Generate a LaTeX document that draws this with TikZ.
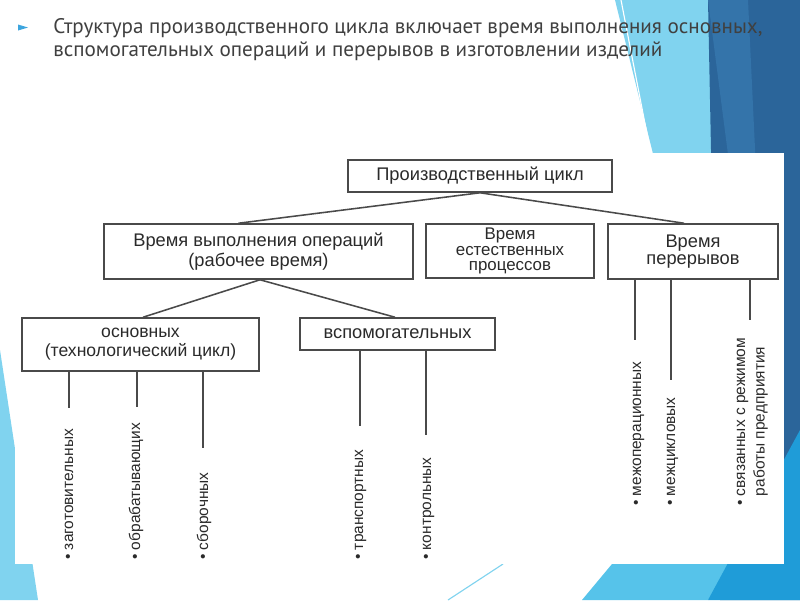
\documentclass[tikz,border=0pt]{standalone}
\usepackage{fontspec}
\setmainfont{Liberation Sans}
\newfontfamily\titlefont{PT Sans}
\usetikzlibrary{positioning}
\definecolor{slidetext}{HTML}{404040}
\definecolor{bulletblue}{HTML}{3DA5DE}
\definecolor{lightcyan}{HTML}{80D3EF}
\definecolor{skycyan}{HTML}{56C3EA}
\definecolor{midblue}{HTML}{1F9CD8}
\definecolor{deepblue}{HTML}{2B659A}
\definecolor{steelblue}{HTML}{3474AA}
\definecolor{diagline}{HTML}{4A4A4A}
\definecolor{diagtext}{HTML}{2A2A2A}
\newlength\pxu
\setlength\pxu{0.025cm}

\tikzset{
  box/.style={draw=diagline, line width=1.1pt, inner sep=0pt, align=center,
    text=diagtext, font=\fontsize{13pt}{14.2pt}\selectfont},
  link/.style={draw=diagline, line width=1.1pt},
  leaf/.style={rotate=90, anchor=base west, inner sep=0pt, text=diagtext,
    font=\fontsize{11pt}{14pt}\selectfont},
}

\begin{document}
\begin{tikzpicture}[x=1\pxu, y=-1\pxu]
  \useasboundingbox (0,0) rectangle (800,600);
  \fill[white] (0,0) rectangle (800,600);

  % slide decoration
  \fill[lightcyan] (0,350) -- (38,600) -- (0,600) -- cycle;
  \fill[lightcyan] (615,0) -- (708,0) -- (730,170) -- (657,170) -- cycle;
  \draw[white, line width=0.8pt] (621,0) -- (652,160);
  \fill[deepblue] (708,0) -- (800,0) -- (800,600) -- (720,600) -- cycle;
  \fill[steelblue] (708,0) -- (748,0) -- (756,170) -- (730,170) -- cycle;
  \fill[skycyan] (582,600) -- (612,564) -- (640,530) -- (760,530) -- (708,600) -- cycle;
  \fill[midblue] (708,600) -- (800,430) -- (800,600) -- cycle;
  \draw[lightcyan, line width=0.8pt] (448,600) -- (503,564);

  % picture of the cycle
  \fill[white] (15,153) rectangle (784,564);

  \node[box, minimum width=264\pxu, minimum height=32\pxu] (cycle) at (480,176) {Производственный цикл};
  \node[box, minimum width=309\pxu, minimum height=55\pxu] (worktime) at (258.5,251.5) {Время выполнения операций\\(рабочее время)};
  \node[box, minimum width=168\pxu, minimum height=54\pxu, font=\fontsize{12pt}{11pt}\selectfont] (natural) at (510,251) {Время\\естественных\\процессов};
  \node[box, minimum width=170\pxu, minimum height=55\pxu, font=\fontsize{13pt}{12pt}\selectfont] (breaks) at (693,251.5) {Время\\перерывов};
  \node[box, minimum width=237\pxu, minimum height=53\pxu, font=\fontsize{12.5pt}{13.5pt}\selectfont] (mainops) at (140.5,344.5) {основных\\(технологический цикл)};
  \node[box, minimum width=195\pxu, minimum height=32\pxu] (auxops) at (397.5,334) {вспомогательных};

  \draw[link] (cycle.south) -- ([xshift=-20\pxu]worktime.north);
  \draw[link] (cycle.south) -- ([xshift=-9\pxu]breaks.north);
  \draw[link] ([xshift=1.5\pxu]worktime.south) -- ([xshift=2.5\pxu]mainops.north);
  \draw[link] ([xshift=1.5\pxu]worktime.south) -- ([xshift=-2.5\pxu]auxops.north);

  % leaves
  \foreach \lx/\ly [count=\i] in {69/408, 137/407, 203/448} {
    \coordinate (mend\i) at (\lx,\ly);
    \draw[link] (mainops.south -| mend\i) -- (mend\i);
  }
  \foreach \lx/\ly [count=\i] in {360/426, 426/435} {
    \coordinate (aend\i) at (\lx,\ly);
    \draw[link] (auxops.south -| aend\i) -- (aend\i);
  }
  \foreach \lx/\ly [count=\i] in {635/340, 671/380, 750/320} {
    \coordinate (bend\i) at (\lx,\ly);
    \draw[link] (breaks.south -| bend\i) -- (bend\i);
  }

  \node[leaf] (blank) at (73,560) {• заготовительных};
  \node[leaf] (machining) at (140,560) {• обрабатывающих};
  \node[leaf] (assembly) at (208,560) {• сборочных};
  \node[leaf] (transport) at (363,560) {• транспортных};
  \node[leaf] (control) at (431,560) {• контрольных};
  \node[leaf] (interop) at (641,506) {• межоперационных};
  \node[leaf] (intercycle) at (675,506) {• межцикловых};
  \node[leaf] (regime) at (745,506) {\begin{tabular}[t]{@{}l@{}}• связанных с режимом\\\phantom{• }работы предприятия\end{tabular}};

  % slide text
  \fill[bulletblue] (18,24.5) -- (28,27.5) -- (18,30.5) -- cycle;
  \node[anchor=base west, inner sep=0pt, text=slidetext, font=\titlefont\fontsize{15pt}{16.4pt}\selectfont] (headline) at (53,33)
    {\begin{tabular}[t]{@{}l@{}}Структура производственного цикла включает время выполнения основных,\\вспомогательных операций и перерывов в изготовлении изделий\end{tabular}};
\end{tikzpicture}
\end{document}
